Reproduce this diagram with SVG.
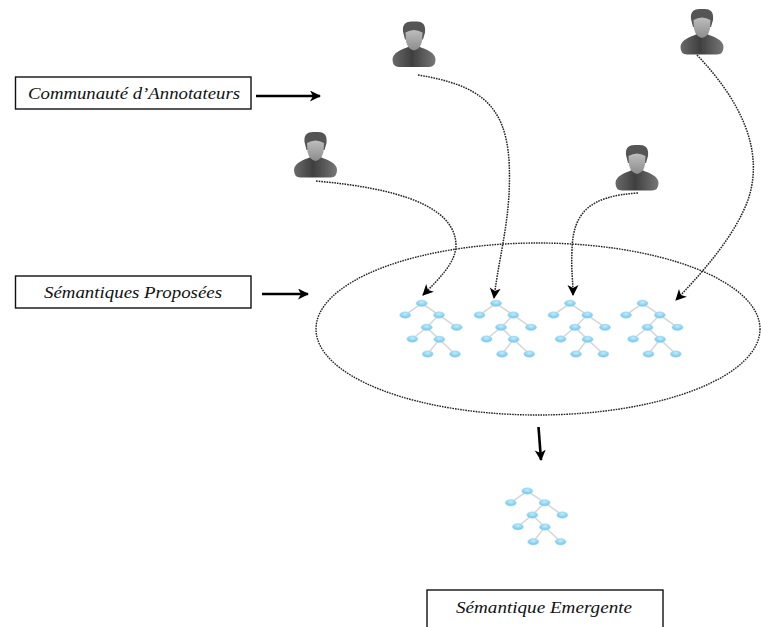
<svg xmlns="http://www.w3.org/2000/svg" width="761" height="627" viewBox="0 0 761 627">
<style>
.box{fill:#fff;stroke:#111;stroke-width:1.4}
.lbl{font-family:"Liberation Serif",serif;font-style:italic;font-size:17px;fill:#111}
.dot{fill:none;stroke:#222;stroke-width:1.5;stroke-dasharray:1.6 1}
.solid{fill:none;stroke:#000;stroke-width:2.6}
.edge{stroke:#d8d8d8;stroke-width:1.6;fill:none}
.n{fill:url(#nodeFill);stroke:#a9dff5;stroke-width:.6}
</style>
<defs>
<radialGradient id="nodeFill" cx=".5" cy=".35" r=".7"><stop offset="0" stop-color="#c4ecfb"/><stop offset="1" stop-color="#62bfea"/></radialGradient>
<linearGradient id="body" x1="0" x2="1" y1="0" y2="0"><stop offset="0" stop-color="#6a6a6a"/><stop offset=".45" stop-color="#3f3f3f"/><stop offset="1" stop-color="#777"/></linearGradient>
<linearGradient id="face" x1="0" x2="0" y1="0" y2="1"><stop offset="0" stop-color="#bdbdbd"/><stop offset="1" stop-color="#8c8c8c"/></linearGradient>
<filter id="soft" x="-10%" y="-10%" width="120%" height="120%"><feGaussianBlur stdDeviation=".7"/></filter>
<marker id="ah" markerWidth="14" markerHeight="12" refX="10" refY="5.500" orient="auto" markerUnits="userSpaceOnUse"><path d="M0 0L11 5.500L0 11L3 5.500Z" fill="#000"/></marker>
<g id="person" filter="url(#soft)">
<path d="M-21.500 38C-21.500 31-12 28-5 25L5 25C12 28 21.500 31 21.500 38Q21.500 45.500 15 45.500L-15 45.500Q-21.500 45.500-21.500 38Z" fill="url(#body)"/>
<path d="M-11 10C-12 0-5 0 0 0C6 0 12 0 11 11L9 18L-9 18Z" fill="#555"/>
<path d="M-8.500 11Q0 6 8.500 11L8 20Q6 28 0 29Q-6 28-8 20Z" fill="url(#face)"/>
</g>
<g id="tree" filter="url(#soft)">
<path class="edge" d="M0 0L-16.500 11.700M0 0L17.300 11.700M17.300 11.700L5 24M17.300 11.700L35 24M5 24L-9.400 35.700M5 24L17.600 36M17.600 36L6 50.700M17.600 36L33.300 50.700"/>
<ellipse class="n" cx="0" cy="0" rx="5.500" ry="3.200"/>
<ellipse class="n" cx="-16.500" cy="11.700" rx="5.500" ry="3.200"/>
<ellipse class="n" cx="17.300" cy="11.700" rx="5.500" ry="3.200"/>
<ellipse class="n" cx="5" cy="24" rx="5.500" ry="3.200"/>
<ellipse class="n" cx="35" cy="24" rx="5.500" ry="3.200"/>
<ellipse class="n" cx="-9.400" cy="35.700" rx="5.500" ry="3.200"/>
<ellipse class="n" cx="17.600" cy="36" rx="5.500" ry="3.200"/>
<ellipse class="n" cx="6" cy="50.700" rx="5.500" ry="3.200"/>
<ellipse class="n" cx="33.300" cy="50.700" rx="5.500" ry="3.200"/>
</g>
</defs>
<rect width="761" height="627" fill="#fff"/>
<ellipse id="semantic-pool" cx="538" cy="329" rx="222" ry="86" fill="none" stroke="#222" stroke-width="1.400" stroke-dasharray="1.600 1"/>
<g id="connectors">
<path class="dot" marker-end="url(#ah)" d="M418 75C480 85 505 105 509 160C512 215 500 250 494 298"/>
<path class="dot" marker-end="url(#ah)" d="M316 181C395 188 455 205 456 245C456 262 440 278 423 295"/>
<path class="dot" marker-end="url(#ah)" d="M638 193C590 196 573 212 572 250C571 270 573 280 573 295"/>
<path class="dot" marker-end="url(#ah)" d="M697 55C740 100 765 150 748 200C735 235 705 270 676 300"/>
<path class="solid" marker-end="url(#ah)" d="M256 96L320 96"/>
<path class="solid" marker-end="url(#ah)" d="M262 294L308 294"/>
<path class="solid" marker-end="url(#ah)" d="M538.500 427L541 460"/>
</g>
<g id="annotator-1"><use href="#person" x="414" y="21.500"/></g>
<g id="annotator-2"><use href="#person" x="315.500" y="132"/></g>
<g id="annotator-3"><use href="#person" x="702" y="9"/></g>
<g id="annotator-4"><use href="#person" x="637" y="145"/></g>
<g id="tree-1"><use href="#tree" x="421.700" y="303.300"/></g>
<g id="tree-2"><use href="#tree" x="496" y="303.300"/></g>
<g id="tree-3"><use href="#tree" x="570" y="303.300"/></g>
<g id="tree-4"><use href="#tree" x="642.500" y="303.300"/></g>
<g id="tree-emergent"><use href="#tree" x="527.300" y="491"/></g>
<g id="label-communaute"><rect class="box" x="15.500" y="77" width="235.500" height="32"/><text class="lbl" x="28" y="99" textLength="212" lengthAdjust="spacingAndGlyphs">Communauté d’Annotateurs</text></g>
<g id="label-proposees"><rect class="box" x="15.500" y="276" width="235.500" height="32"/><text class="lbl" x="44" y="298" textLength="178" lengthAdjust="spacingAndGlyphs">Sémantiques Proposées</text></g>
<g id="label-emergente"><rect class="box" x="427" y="590" width="236" height="50"/><text class="lbl" x="456" y="613" textLength="176" lengthAdjust="spacingAndGlyphs">Sémantique Emergente</text></g>
</svg>
